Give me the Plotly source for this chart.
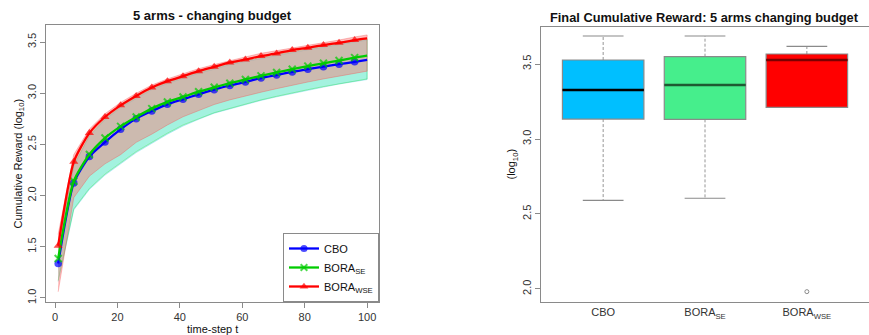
import plotly.graph_objects as go

# ---------------- data ----------------
t = [1, 6, 11, 16, 21, 26, 31, 36, 41, 46, 51, 56, 61, 66, 71, 76, 81, 86, 91, 96, 100]

cbo_mean = [1.336, 2.124, 2.382, 2.523, 2.647, 2.752, 2.826, 2.892, 2.941, 2.990, 3.035,
            3.076, 3.111, 3.148, 3.178, 3.208, 3.235, 3.260, 3.284, 3.307, 3.326]
se_mean = [1.385, 2.140, 2.402, 2.562, 2.676, 2.768, 2.850, 2.915, 2.964, 3.015, 3.058,
           3.098, 3.135, 3.170, 3.203, 3.235, 3.265, 3.293, 3.320, 3.348, 3.368]
wse_mean = [1.510, 2.330, 2.611, 2.768, 2.882, 2.974, 3.056, 3.118, 3.167, 3.216, 3.258,
            3.301, 3.330, 3.363, 3.389, 3.422, 3.444, 3.471, 3.493, 3.520, 3.536]

cbo_upper = [1.49, 2.29, 2.58, 2.74, 2.86, 2.95, 3.035, 3.095, 3.145, 3.195, 3.235,
             3.28, 3.31, 3.34, 3.37, 3.40, 3.425, 3.45, 3.475, 3.505, 3.52]
cbo_lower = [1.16, 1.86, 2.06, 2.20, 2.31, 2.42, 2.51, 2.60, 2.68, 2.745, 2.805,
             2.85, 2.89, 2.93, 2.965, 3.00, 3.03, 3.06, 3.09, 3.115, 3.134]
se_upper = [1.50, 2.30, 2.59, 2.75, 2.87, 2.96, 3.045, 3.105, 3.155, 3.205, 3.245,
            3.29, 3.32, 3.35, 3.38, 3.41, 3.435, 3.46, 3.485, 3.515, 3.53]
se_lower = [1.17, 1.87, 2.07, 2.21, 2.32, 2.43, 2.52, 2.61, 2.69, 2.75, 2.81,
            2.855, 2.895, 2.935, 2.97, 3.005, 3.035, 3.065, 3.095, 3.12, 3.14]
wse_upper = [1.62, 2.40, 2.65, 2.80, 2.91, 3.00, 3.08, 3.14, 3.19, 3.24, 3.28,
             3.32, 3.355, 3.39, 3.415, 3.445, 3.47, 3.495, 3.52, 3.55, 3.57]
wse_lower = [1.06, 1.98, 2.19, 2.31, 2.40, 2.52, 2.60, 2.69, 2.77, 2.83, 2.89,
             2.935, 2.975, 3.01, 3.045, 3.08, 3.11, 3.14, 3.17, 3.195, 3.216]

methods = ["CBO", "BORA<sub>SE</sub>", "BORA<sub>WSE</sub>"]
box_pos = [1, 2, 3]
box_q1 = [3.133, 3.131, 3.211]
box_median = [3.327, 3.360, 3.527]
box_q3 = [3.527, 3.549, 3.567]
box_low = [2.591, 2.605, 3.211]
box_high = [3.687, 3.687, 3.618]
outlier_x = [3]
outlier_y = [1.982]

# ---------------- figure ----------------
fig = go.Figure()
GRAY = "#8a8a8a"
FONT = "Liberation Sans, Arial, sans-serif"

def band(up, lo, fillcolor, linecolor):
    fig.add_trace(go.Scatter(
        x=t + t[::-1], y=up + lo[::-1], fill="toself", fillcolor=fillcolor,
        line=dict(color=linecolor, width=0.6), mode="lines",
        hoverinfo="skip", showlegend=False, xaxis="x", yaxis="y"))

band(cbo_upper, cbo_lower, "rgba(0,210,190,0.2)", "rgba(0,180,220,0.45)")
band(se_upper, se_lower, "rgba(0,230,150,0.2)", "rgba(0,220,0,0.45)")
band(wse_upper, wse_lower, "rgba(255,117,117,0.45)", "rgba(240,80,80,0.6)")

series = [
    (cbo_mean, "CBO", "#0000ff", "circle", 7.5, 0),
    (se_mean, "BORA<sub>SE</sub>", "#00cc00", "x-thin-open", 7, 2),
    (wse_mean, "BORA<sub>WSE</sub>", "#ff0000", "triangle-up", 8, 0),
]
for ys, name, col, sym, sz, lw in series:
    sizes = [sz] * (len(t) - 1) + [0]
    fig.add_trace(go.Scatter(
        x=t, y=ys, name=name, mode="lines+markers",
        line=dict(color=col, width=2.3, shape="spline", smoothing=0.6),
        marker=dict(symbol=sym, size=sizes, color=col,
                    line=dict(color=col, width=lw)),
        xaxis="x", yaxis="y"))

# box plot
box_fill = ["#00bfff", "#46ee8c", "#ff0000"]
med_col = ["#000000", "#1e5a32", "#7a0000"]
for i in range(3):
    x0 = box_pos[i]
    fig.add_trace(go.Box(
        x=[x0], q1=[box_q1[i]], median=[box_median[i]], q3=[box_q3[i]],
        lowerfence=[box_q1[i]], upperfence=[box_q3[i]], width=0.8,
        fillcolor=box_fill[i], line=dict(color=GRAY, width=1.2),
        boxpoints=False, showlegend=False, hoverinfo="skip",
        xaxis="x2", yaxis="y2"))
    fig.add_trace(go.Scatter(
        x=[x0 - 0.4, x0 + 0.4], y=[box_median[i]] * 2, mode="lines",
        line=dict(color=med_col[i], width=2.4),
        showlegend=False, hoverinfo="skip", xaxis="x2", yaxis="y2"))
    for a, b in ((box_q3[i], box_high[i]), (box_q1[i], box_low[i])):
        if a != b:
            fig.add_trace(go.Scatter(
                x=[x0, x0], y=[a, b], mode="lines",
                line=dict(color=GRAY, width=0.9, dash="3px,2px"),
                showlegend=False, hoverinfo="skip", xaxis="x2", yaxis="y2"))
    for v in (box_high[i], box_low[i]):
        if v != box_q1[i]:
            fig.add_trace(go.Scatter(
                x=[x0 - 0.2, x0 + 0.2], y=[v, v], mode="lines",
                line=dict(color=GRAY, width=1.2),
                showlegend=False, hoverinfo="skip", xaxis="x2", yaxis="y2"))

fig.add_trace(go.Scatter(
    x=outlier_x, y=outlier_y, mode="markers",
    marker=dict(symbol="circle-open", size=4, color=GRAY, line=dict(width=1)),
    showlegend=False, hoverinfo="skip", xaxis="x2", yaxis="y2"))

axis_common = dict(showline=True, linecolor=GRAY, linewidth=1, mirror=True,
                   ticks="outside", ticklen=5, tickcolor=GRAY, showgrid=False,
                   zeroline=False, automargin=False,
                   tickfont=dict(size=11, color="#333333", family=FONT))

def ann(text, x, y, size=11, angle=0, bold=False, ya="middle"):
    return dict(text=("<b>%s</b>" % text) if bold else text, x=x, y=y,
                xref="paper", yref="paper", xanchor="center", yanchor=ya,
                textangle=angle, showarrow=False,
                font=dict(size=size, color="#111111", family=FONT))

fig.update_layout(
    width=869, height=335,
    margin=dict(l=46, r=0, t=25, b=33, autoexpand=False),
    paper_bgcolor="white", plot_bgcolor="white",
    font=dict(family=FONT, color="#222222"),
    xaxis=dict(domain=[0, 0.4046], range=[-2.9, 103.8], tickvals=[0, 20, 40, 60, 80, 100],
               **axis_common),
    yaxis=dict(domain=[0, 1], range=[0.96, 3.667], tickvals=[1.0, 1.5, 2.0, 2.5, 3.0, 3.5],
               tickformat=".1f", tickangle=-90, **axis_common),
    xaxis2=dict(domain=[0.6015, 1], range=[0.39, 3.61], tickvals=box_pos, ticktext=methods,
                anchor="y2", **{**axis_common, "ticks": ""}),
    yaxis2=dict(domain=[0, 0.9928], range=[1.913, 3.747], tickvals=[2.0, 2.5, 3.0, 3.5],
                tickformat=".1f", tickangle=-90, anchor="x2", **axis_common),
    legend=dict(x=0.4046, y=0, xanchor="right", yanchor="bottom",
                bgcolor="white", bordercolor=GRAY, borderwidth=1,
                font=dict(size=11, family=FONT, color="#111111"),
                itemwidth=30, tracegroupgap=0),
    annotations=[
        ann("5 arms - changing budget", 0.2023, 1.0, size=13, bold=True, ya="bottom"),
        ann("Final Cumulative Reward: 5 arms changing budget", 0.8007, 0.9928,
            size=12.8, bold=True, ya="bottom"),
        ann("time-step t", 0.2023, -0.0975),
        ann("Cumulative Reward (log<sub>10</sub>)", -0.034, 0.5, angle=-90),
        ann("(log<sub>10</sub>)", 0.5662, 0.5, angle=-90),
    ],
)

fig.write_html("out.html", config={"displayModeBar": False},
               post_script="document.body.style.margin='0';document.body.style.overflow='hidden';")
